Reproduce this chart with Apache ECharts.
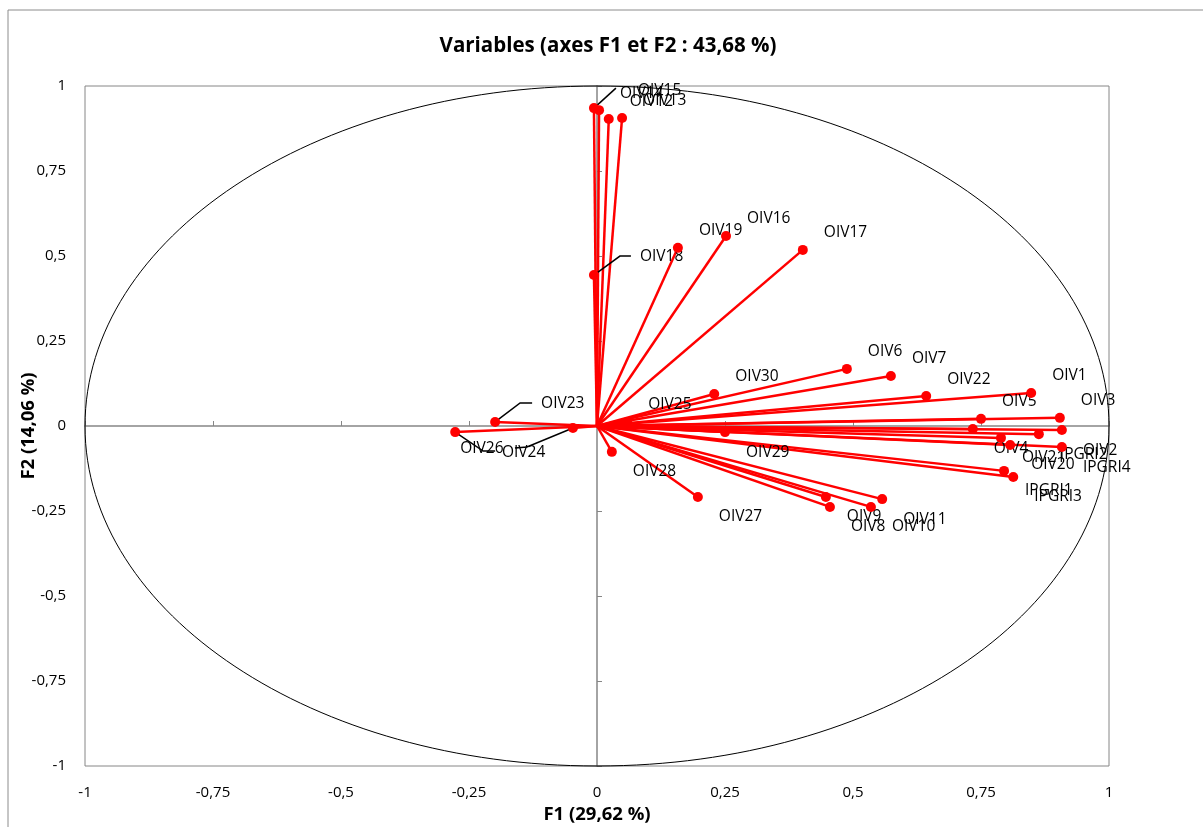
<!DOCTYPE html>
<html>
<head>
<meta charset="utf-8">
<script src="https://cdn.jsdelivr.net/npm/echarts@6/dist/echarts.min.js"></script>
<style>
  html, body { margin: 0; padding: 0; background: #fff; }
  #chart { width: 1203px; height: 827px; }
</style>
</head>
<body>
<div id="chart"></div>
<script>
  // correlation circle, F1 x F2
  var varNames = ['OIV15', 'OIV14', 'OIV12', 'OIV13', 'OIV18', 'OIV19', 'OIV16', 'OIV17',
    'OIV6', 'OIV7', 'OIV22', 'OIV1', 'OIV5', 'OIV3', 'OIV30', 'OIV25', 'OIV23', 'OIV26',
    'OIV24', 'OIV28', 'OIV29', 'OIV27', 'OIV9', 'OIV8', 'OIV10', 'OIV11', 'OIV4', 'OIV21',
    'IPGRI2', 'OIV2', 'OIV20', 'IPGRI4', 'IPGRI1', 'IPGRI3'];
  var f1 = [-0.006, 0.004, 0.023, 0.049, -0.006, 0.158, 0.252, 0.402,
    0.488, 0.574, 0.643, 0.848, 0.750, 0.904, 0.229, 0.059, -0.199, -0.277,
    -0.047, 0.029, 0.250, 0.197, 0.447, 0.455, 0.535, 0.557, 0.734, 0.789,
    0.863, 0.908, 0.807, 0.908, 0.795, 0.813];
  var f2 = [0.935, 0.929, 0.903, 0.906, 0.444, 0.524, 0.559, 0.518,
    0.168, 0.147, 0.088, 0.097, 0.021, 0.024, 0.094, 0.012, 0.012, -0.018,
    -0.006, -0.076, -0.018, -0.209, -0.209, -0.238, -0.238, -0.215, -0.009, -0.035,
    -0.024, -0.012, -0.056, -0.062, -0.132, -0.150];

  // labels moved away from their point, with a leader line (pixel offsets)
  var movedLabels = {
    OIV15: { leader: [[22, -20]], dx: 44, dy: -18 },
    OIV18: { leader: [[26, -19], [37, -19]], dx: 46, dy: -18 },
    OIV23: { leader: [[25, -19], [37, -19]], dx: 46, dy: -18 },
    OIV26: { leader: [[28, 19], [40, 19]], dx: 5, dy: 16 },
    OIV24: { leader: [[-46, 19], [-58, 20]], dx: -71, dy: 25 }
  };

  var points = varNames.map(function (n, i) { return [f1[i], f2[i]]; });
  var fmt = function (v) { return String(v).replace('.', ','); };
  var labelFont = '"Open Sans", "DejaVu Sans", sans-serif';
  var axisGray = '#868686';

  var chart = echarts.init(document.getElementById('chart'));

  var option = {
    animation: false,
    graphic: [{
      type: 'rect',
      shape: { x: 8, y: 10, width: 1400, height: 1000 },
      style: { fill: 'none', stroke: '#8c8c8c', lineWidth: 1 },
      silent: true
    }, {
      type: 'text',
      x: 608, y: 46,
      style: {
        text: 'Variables (axes F1 et F2 : 43,68 %)',
        font: 'bold 20.5px ' + labelFont,
        fill: '#000', align: 'center', verticalAlign: 'middle'
      }
    }],
    grid: {
      left: 85, right: 94, top: 86, bottom: 61,
      outerBoundsMode: 'none',
      show: true, borderColor: axisGray, borderWidth: 1
    },
    xAxis: [{
      type: 'value', min: -1, max: 1, interval: 0.25,
      position: 'bottom',
      axisLine: { show: false, onZero: false },
      axisTick: { show: false },
      splitLine: { show: false },
      axisLabel: { margin: 19, color: '#000', fontSize: 15, fontFamily: labelFont, formatter: fmt },
      name: 'F1 (29,62 %)', nameLocation: 'middle', nameGap: 39, nameMoveOverlap: false,
      nameTextStyle: { fontWeight: 'bold', fontSize: 18.5, color: '#000', fontFamily: labelFont }
    }, {
      type: 'value', min: -1, max: 1, interval: 0.25,
      axisLine: { show: true, onZero: true, onZeroAxisIndex: 0, lineStyle: { color: axisGray, width: 1.5 } },
      axisTick: { show: true, length: 5, lineStyle: { color: axisGray } },
      axisLabel: { show: false },
      splitLine: { show: false }
    }],
    yAxis: [{
      type: 'value', min: -1, max: 1, interval: 0.25,
      position: 'left',
      axisLine: { show: false, onZero: false },
      axisTick: { show: false },
      splitLine: { show: false },
      axisLabel: { margin: 19, color: '#000', fontSize: 15, fontFamily: labelFont, formatter: fmt },
      name: 'F2 (14,06 %)', nameLocation: 'middle', nameGap: 47, nameRotate: 90, nameMoveOverlap: false,
      nameTextStyle: { fontWeight: 'bold', fontSize: 18.5, color: '#000', fontFamily: labelFont }
    }, {
      type: 'value', min: -1, max: 1, interval: 0.25,
      axisLine: { show: true, onZero: true, onZeroAxisIndex: 0, lineStyle: { color: axisGray, width: 1.5 } },
      axisTick: { show: true, length: 5, lineStyle: { color: axisGray } },
      axisLabel: { show: false },
      splitLine: { show: false }
    }],
    series: [{
      // unit circle
      type: 'custom',
      silent: true,
      data: [[0, 0]],
      renderItem: function (params, api) {
        var c = api.coord([0, 0]);
        var s = api.size([1, 1]);
        return {
          type: 'ellipse',
          shape: { cx: c[0], cy: c[1], rx: s[0], ry: s[1] },
          style: { fill: 'none', stroke: '#000', lineWidth: 1 }
        };
      },
      z: 3
    }, {
      // vectors, leader lines and labels
      type: 'custom',
      silent: true,
      data: points,
      renderItem: function (params, api) {
        var o = api.coord([0, 0]);
        var p = api.coord([api.value(0), api.value(1)]);
        var name = varNames[params.dataIndex];
        var children = [{
          type: 'line',
          shape: { x1: o[0], y1: o[1], x2: p[0], y2: p[1] },
          style: { stroke: '#ff0000', lineWidth: 2.5 }
        }];
        var tx = p[0] + 21;
        var ty = api.value(1) >= 0 ? p[1] - 17 : p[1] + 20;
        var moved = movedLabels[name];
        if (moved) {
          var pts = [[p[0], p[1]]].concat(moved.leader.map(function (d) { return [p[0] + d[0], p[1] + d[1]]; }));
          children.push({
            type: 'polyline',
            shape: { points: pts },
            style: { stroke: '#000', lineWidth: 1.5, fill: 'none' },
            z2: 5
          });
          tx = p[0] + moved.dx;
          ty = p[1] + moved.dy;
        }
        children.push({
          type: 'text',
          x: tx, y: ty,
          style: { text: name, font: '15.5px ' + labelFont, fill: '#000', align: 'left', verticalAlign: 'middle' },
          z2: 10
        });
        return { type: 'group', children: children };
      },
      z: 4
    }, {
      type: 'scatter',
      data: points,
      symbol: 'circle',
      symbolSize: 10,
      itemStyle: { color: '#ff0000', opacity: 1 },
      silent: true,
      z: 5
    }]
  };

  chart.setOption(option);
</script>
</body>
</html>
